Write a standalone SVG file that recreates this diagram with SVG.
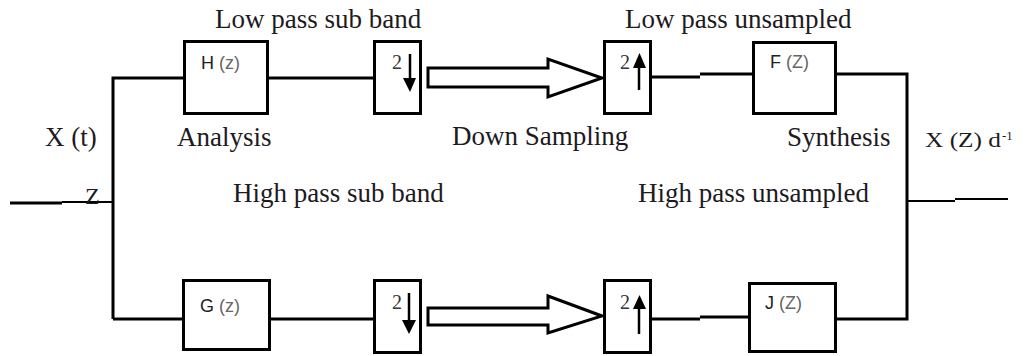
<svg xmlns="http://www.w3.org/2000/svg" width="1027" height="356" viewBox="0 0 1027 356">
<style>
.lbl{font-family:"Liberation Serif","Times New Roman",serif;font-size:27px;fill:#1e1a22}
.sm{font-family:"Liberation Serif","Times New Roman",serif;fill:#1e1a22}
.box{fill:#fff;stroke:#000;stroke-width:3}
.blk{font-family:"Liberation Sans",Arial,sans-serif;font-size:18px;fill:#222}
.par{fill:#666}
.two{font-family:"Liberation Serif","Times New Roman",serif;font-size:20px;fill:#333}
.ln{fill:none;stroke:#000;stroke-width:3}
.thin{fill:none;stroke:#000;stroke-width:1.8}
.hollow{fill:#fff;stroke:#000;stroke-width:3;stroke-linejoin:miter}
</style>
<rect width="1027" height="356" fill="#fff"/>
<g id="connectors">
  <path class="ln" d="M10 203 H62"/>
  <path class="thin" d="M62 202 H113"/>
  <path class="ln" d="M113 319 V78 H184"/>
  <path class="ln" d="M113 319 H183"/>
  <path class="ln" d="M268 78 H374"/>
  <path class="ln" d="M270 319 H374"/>
  <path class="ln" d="M651 77 H700"/>
  <path class="ln" d="M700 74 H753"/>
  <path class="ln" d="M651 319 H700"/>
  <path class="ln" d="M700 317 H749"/>
  <path class="ln" d="M836 74 H907 V319 H836" stroke-width="4"/>
  <path class="thin" d="M907 201 H955"/>
  <path class="thin" d="M955 199 H1008"/>
  <polygon class="hollow" points="428,68 548,68 548,59 602,78 548,97 548,87 428,87"/>
  <polygon class="hollow" points="428,308 548,308 548,296 602,316 548,333 548,325 428,325"/>
</g>
<g id="node-H">
  <rect class="box" x="184.5" y="41.5" width="83" height="72"/>
  <text class="blk" x="201" y="69">H <tspan class="par">(z)</tspan></text>
</g>
<g id="node-down-top">
  <rect class="box" x="374.5" y="41.5" width="46" height="72"/>
  <text class="two" x="392" y="69">2</text>
  <path d="M410 54 V80" stroke="#000" stroke-width="2.5"/>
  <polygon points="403,78 416,78 410,92" fill="#000"/>
</g>
<g id="node-up-top">
  <rect class="box" x="604.5" y="41.5" width="46" height="72"/>
  <text class="two" x="620" y="69">2</text>
  <path d="M639 90 V66" stroke="#000" stroke-width="2.5"/>
  <polygon points="633,68 646,68 639.5,53" fill="#000"/>
</g>
<g id="node-F">
  <rect class="box" x="753.5" y="42.5" width="82" height="71"/>
  <text class="blk" x="770" y="68">F <tspan class="par">(Z)</tspan></text>
</g>
<g id="node-G">
  <rect class="box" x="183.5" y="280.5" width="86" height="69"/>
  <text class="blk" x="200" y="312">G  <tspan class="par">(z)</tspan></text>
</g>
<g id="node-down-bottom">
  <rect class="box" x="374.5" y="280.5" width="46" height="72"/>
  <text class="two" x="392" y="309">2</text>
  <path d="M409 293 V322" stroke="#000" stroke-width="2.5"/>
  <polygon points="402,320 416,320 409,334" fill="#000"/>
</g>
<g id="node-up-bottom">
  <rect class="box" x="604.5" y="280.5" width="46" height="72"/>
  <text class="two" x="620" y="309">2</text>
  <path d="M639 334 V306" stroke="#000" stroke-width="2.5"/>
  <polygon points="633,309 646,309 639.5,295" fill="#000"/>
</g>
<g id="node-J">
  <rect class="box" x="749.5" y="283.5" width="86" height="68"/>
  <text class="blk" x="765" y="309">J <tspan class="par">(Z)</tspan></text>
</g>
<g id="labels">
  <text class="lbl" x="215" y="28">Low pass sub band</text>
  <text class="lbl" x="625" y="28">Low pass unsampled</text>
  <text class="lbl" x="45" y="146">X (t)</text>
  <text class="lbl" x="177" y="146">Analysis</text>
  <text class="lbl" x="452" y="145">Down Sampling</text>
  <text class="lbl" x="787" y="146">Synthesis</text>
  <text class="sm" x="925" y="147" font-size="21" textLength="76" lengthAdjust="spacingAndGlyphs">X (Z) d</text>
  <text class="sm" x="1002" y="140" font-size="13">-1</text>
  <text class="sm" x="85" y="204" font-size="24">Z</text>
  <text class="lbl" x="233" y="202">High pass sub band</text>
  <text class="lbl" x="638" y="202">High pass unsampled</text>
</g>
</svg>
